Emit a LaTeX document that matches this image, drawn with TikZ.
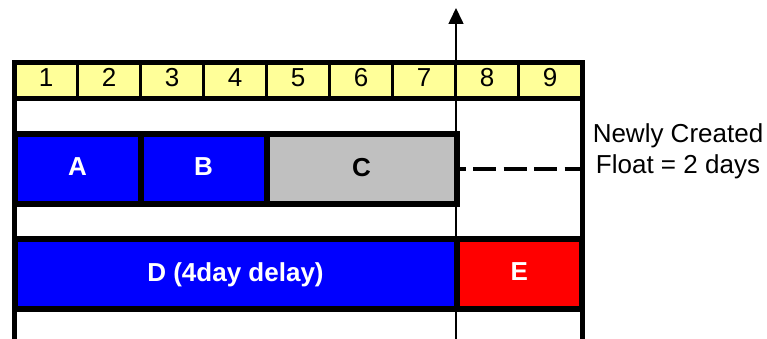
\documentclass[tikz,border=0pt]{standalone}
\usepackage{fontspec}
\setmainfont{Liberation Sans}
\usetikzlibrary{arrows.meta, positioning}

\definecolor{dayyellow}{HTML}{FFFF99}
\definecolor{taskblue}{HTML}{0000FF}
\definecolor{taskgrey}{HTML}{C0C0C0}
\definecolor{taskred}{HTML}{FF0000}

\begin{document}
\begin{tikzpicture}[
        x=1pt, y=-1pt,
        daycell/.style={
            rectangle,
            draw=black,
            line width=3pt,
            fill=dayyellow,
            minimum width=63pt,
            minimum height=36pt,
            inner sep=0pt,
            outer sep=0pt,
            text depth=6pt,
            font=\fontsize{26}{31}\selectfont
        },
        taskbox/.style={
            rectangle,
            draw=black,
            line width=6pt,
            minimum height=70pt,
            inner sep=0pt,
            outer sep=0pt,
            text=white,
            text depth=4pt,
            font=\bfseries\fontsize{26}{31}\selectfont
        },
        frame/.style={
            line width=5pt,
            draw=black
        },
        floatline/.style={
            line width=4.5pt,
            dash pattern=on 23pt off 7.5pt,
            dash phase=14pt
        },
        nowline/.style={
            -{Triangle[length=16pt,width=15pt]},
            line width=1.6pt
        }
    ]

    \useasboundingbox (0,0) rectangle (767,339);

    % Day scale
    \foreach \d in {1,...,9}
        \node[daycell] (day\d) at ({14.5+63*(\d-0.5)}, 80.5) {\d};

    % Frame round the chart
    \coordinate (leftbase) at (14.5,339);
    \coordinate (rightbase) at (582,339);
    \draw[frame] (leftbase) -- (day1.north west) -- (day9.north east -| rightbase) -- (rightbase);
    \draw[frame] (day1.south west) -- (day9.south east -| rightbase);

    % First path: A, B, C
    \node[taskbox, fill=taskblue, minimum width=126pt] (A) at (77.5,169) {A};
    \node[taskbox, fill=taskblue, minimum width=126pt, right=0pt of A] (B) {B};
    \node[taskbox, fill=taskgrey, text=black, minimum width=190pt, right=0pt of B] (C) {C};

    % Second path: D, E
    \node[taskbox, fill=taskblue, minimum width=442pt, below right=35pt and 0pt of A.south west, anchor=north west] (D) {D (4day delay)};
    \node[taskbox, fill=taskred, minimum width=125.5pt, right=0pt of D] (E) {E};

    % Float of C
    \coordinate (floatend) at (rightbase |- C.east);
    \draw[floatline] (C.east) -- (floatend);
    \node[align=center, font=\fontsize{26}{31}\selectfont] (floatnote) at (678,151) {Newly Created\\Float = 2 days};

    % Time now
    \coordinate (nowbase) at (456,339);
    \coordinate (nowtip) at (456,8);
    \draw[nowline] (nowbase) -- (nowtip);

\end{tikzpicture}
\end{document}
